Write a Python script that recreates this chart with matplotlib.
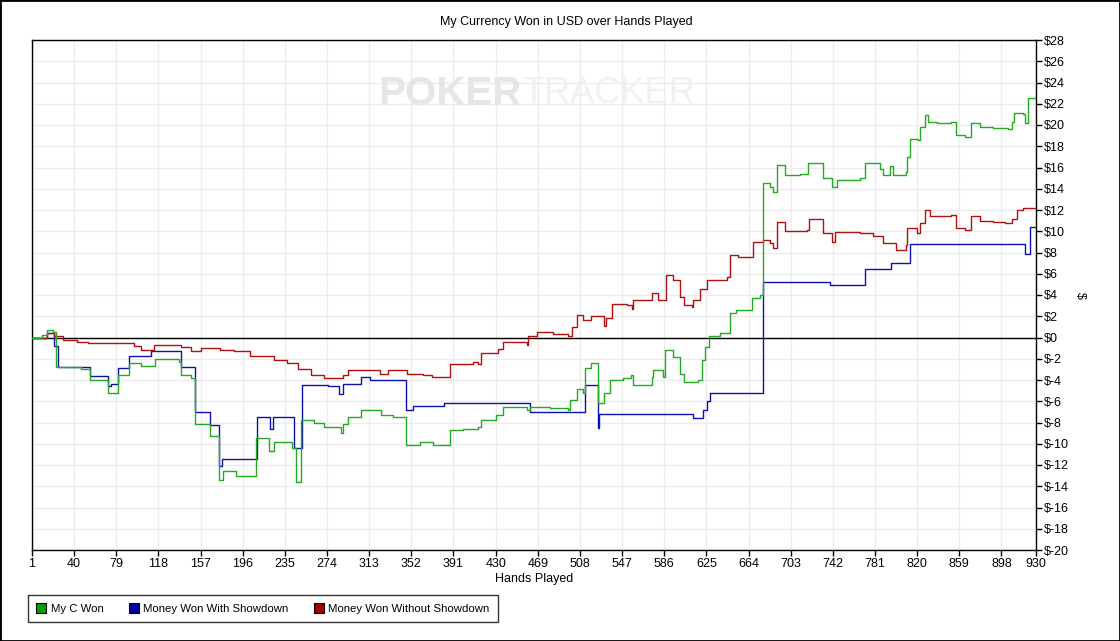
import matplotlib
matplotlib.use('Agg')
import matplotlib.pyplot as plt
from matplotlib.patches import Patch, Rectangle

# Hands / cumulative USD values (change points)
green_hands = [1, 10, 15, 20, 23, 46, 55, 71, 81, 91, 102, 115, 137, 139, 148, 152, 166, 174, 178, 190,
               208, 220, 225, 242, 245, 250, 262, 271, 287, 289, 293, 305, 324, 335, 347, 360, 372, 388,
               400, 414, 416, 430, 437, 459, 462, 480, 497, 499, 505, 511, 513, 518, 525, 530, 536, 548,
               555, 557, 575, 576, 585, 587, 594, 601, 604, 617, 621, 624, 627, 638, 647, 652, 667, 675,
               677, 684, 687, 690, 698, 712, 719, 733, 741, 746, 767, 772, 786, 788, 795, 798, 810, 811,
               813, 821, 823, 827, 830, 838, 851, 856, 864, 870, 878, 890, 904, 908, 910, 918, 920, 923, 930]
green_vals = [0, 0.2, 0.7, 0.5, -2.75, -3.0, -4.0, -5.2, -3.5, -2.4, -2.7, -2.0, -2.3, -3.5, -3.8, -8.1,
              -9.3, -13.4, -12.6, -13.0, -9.5, -10.7, -9.8, -10.4, -13.6, -7.8, -8.0, -8.4, -9.0, -8.1,
              -7.45, -6.8, -7.3, -7.45, -10.1, -9.8, -10.1, -8.7, -8.6, -8.4, -7.8, -7.3, -6.5, -6.8, -6.5,
              -6.6, -6.8, -5.9, -4.8, -5.2, -2.9, -2.4, -6.2, -5.2, -4.0, -3.8, -3.5, -4.5, -3.7, -3.1,
              -3.7, -1.2, -1.8, -3.4, -4.2, -4.0, -2.1, -0.9, 0.1, 0.4, 2.3, 2.6, 3.7, 4.0, 14.5, 14.2,
              13.7, 16.2, 15.3, 15.4, 16.4, 15.0, 14.2, 14.8, 15.0, 16.4, 15.9, 15.3, 16.1, 15.3, 15.6,
              17.0, 18.7, 18.6, 19.8, 20.9, 20.3, 20.2, 20.3, 19.1, 18.9, 20.2, 19.8, 19.7, 19.6, 20.3,
              21.1, 21.0, 20.2, 22.5, 22.7]

blue_hands = [1, 15, 21, 25, 55, 71, 74, 81, 91, 111, 139, 152, 166, 174, 177, 209, 221, 224, 243, 251,
              275, 285, 289, 305, 314, 347, 354, 382, 460, 462, 511, 513, 525, 526, 613, 622, 626, 628,
              677, 739, 772, 796, 813, 920, 924, 930]
blue_vals = [0, 0.4, -0.8, -2.75, -3.6, -4.6, -4.4, -2.9, -1.7, -1.3, -2.75, -7.0, -8.2, -12.1, -11.4,
             -7.5, -8.6, -7.5, -10.4, -4.5, -4.6, -5.3, -4.4, -3.7, -4.0, -6.8, -6.45, -6.2, -6.2, -7.0,
             -7.0, -4.5, -8.5, -7.2, -7.6, -6.8, -6.0, -5.2, 5.25, 4.9, 6.45, 7.05, 8.8, 7.85, 10.4, 10.4]

red_hands = [1, 15, 21, 30, 43, 53, 80, 95, 102, 114, 139, 148, 157, 175, 188, 203, 225, 237, 247, 259,
             271, 289, 293, 323, 330, 348, 363, 371, 386, 388, 409, 414, 416, 432, 437, 459, 460, 468,
             483, 497, 501, 505, 511, 518, 530, 532, 538, 552, 556, 557, 575, 580, 588, 594, 601, 604,
             612, 613, 619, 626, 644, 647, 654, 668, 677, 684, 687, 690, 698, 718, 720, 733, 741, 744,
             767, 779, 786, 788, 800, 810, 811, 820, 823, 827, 832, 851, 856, 864, 870, 878, 890, 901,
             908, 912, 918, 930]
red_vals = [0, 0.4, 0.15, -0.2, -0.4, -0.5, -0.55, -0.8, -1.2, -0.7, -0.9, -1.25, -1.0, -1.2, -1.3,
            -1.75, -2.1, -2.4, -3.0, -3.5, -3.85, -3.5, -3.1, -3.4, -3.1, -3.45, -3.5, -3.7, -3.75, -2.5,
            -2.3, -2.5, -1.5, -1.1, -0.4, -0.7, 0.15, 0.55, 0.3, 0.1, 1.0, 2.1, 1.65, 2.0, 1.1, 1.8, 3.2,
            3.05, 2.7, 3.5, 4.15, 3.5, 5.9, 5.4, 3.85, 3.05, 2.9, 3.5, 4.6, 5.4, 5.7, 7.8, 7.6, 9.0, 9.2,
            8.9, 8.4, 10.9, 10.0, 10.1, 11.2, 9.8, 9.0, 9.9, 9.8, 9.6, 9.55, 8.85, 8.2, 8.7, 10.3, 9.8,
            10.75, 12.0, 11.4, 11.5, 10.3, 10.1, 11.4, 11.0, 10.9, 10.75, 11.2, 12.0, 12.15, 12.2]

x_ticks = [1, 40, 79, 118, 157, 196, 235, 274, 313, 352, 391, 430, 469, 508, 547, 586, 625, 664,
           703, 742, 781, 820, 859, 898, 930]
y_ticks = list(range(-20, 29, 2))

series_labels = ['My C Won', 'Money Won With Showdown', 'Money Won Without Showdown']
line_colors = ['#22aa22', '#1010b0', '#b01010']
patch_colors = ['#00a000', '#0000a0', '#a00000']

plt.rcParams['font.family'] = ['Liberation Sans', 'DejaVu Sans']
plt.rcParams['font.size'] = 9

fig = plt.figure(figsize=(11.2, 6.41), dpi=100)
ax = fig.add_axes([32 / 1120, 91 / 641, 1004 / 1120, 510 / 641])

ax.plot(green_hands, green_vals, color=line_colors[0], lw=1, drawstyle='steps-post', zorder=4)
ax.plot(blue_hands, blue_vals, color=line_colors[1], lw=1, drawstyle='steps-post', zorder=3)
ax.plot(red_hands, red_vals, color=line_colors[2], lw=1, drawstyle='steps-post', zorder=3)
ax.axhline(0, color='black', lw=1, zorder=2)

ax.set_xlim(1, 930)
ax.set_ylim(-20, 28)
ax.set_xticks(x_ticks)
ax.set_yticks(y_ticks)
ax.set_yticklabels(['$' + str(v) for v in y_ticks])
ax.yaxis.tick_right()
ax.yaxis.set_label_position('right')
ax.tick_params(axis='both', direction='out', length=4, width=1, colors='black', labelsize=9, pad=2)
ax.grid(True, color='#ececec', lw=1, zorder=0)
ax.set_axisbelow(True)
for sp in ax.spines.values():
    sp.set_color('black')
    sp.set_linewidth(1)

ax.set_xlabel('Hands Played', fontsize=9, labelpad=2)
ax.set_ylabel('$', fontsize=9, rotation=270, labelpad=12)

# watermark
ax.text(0.488, 0.895, 'POKER', transform=ax.transAxes, ha='right', va='center',
        fontsize=29, fontweight='bold', color='#e6e6e6', zorder=1)
ax.text(0.488, 0.895, 'TRACKER', transform=ax.transAxes, ha='left', va='center',
        fontsize=26, color='#f1f1f1', zorder=1)

fig.text(0.506, 0.966, 'My Currency Won in USD over Hands Played', ha='center', va='center', fontsize=9)

handles = [Patch(facecolor=c, edgecolor='black', lw=0.8) for c in patch_colors]
leg = fig.legend(handles, series_labels, loc='lower left', bbox_to_anchor=(28 / 1120, 19 / 641),
                 ncol=3, fontsize=8.2, frameon=True, fancybox=False, edgecolor='black',
                 handlelength=0.9, handleheight=0.9, handletextpad=0.4, columnspacing=2.2,
                 borderpad=0.7, borderaxespad=0)
leg.get_frame().set_linewidth(1)

fig.patches.append(Rectangle((0, 0), 1, 1, transform=fig.transFigure, fill=False,
                             edgecolor='black', lw=2))

plt.savefig('out.png', dpi=100)
